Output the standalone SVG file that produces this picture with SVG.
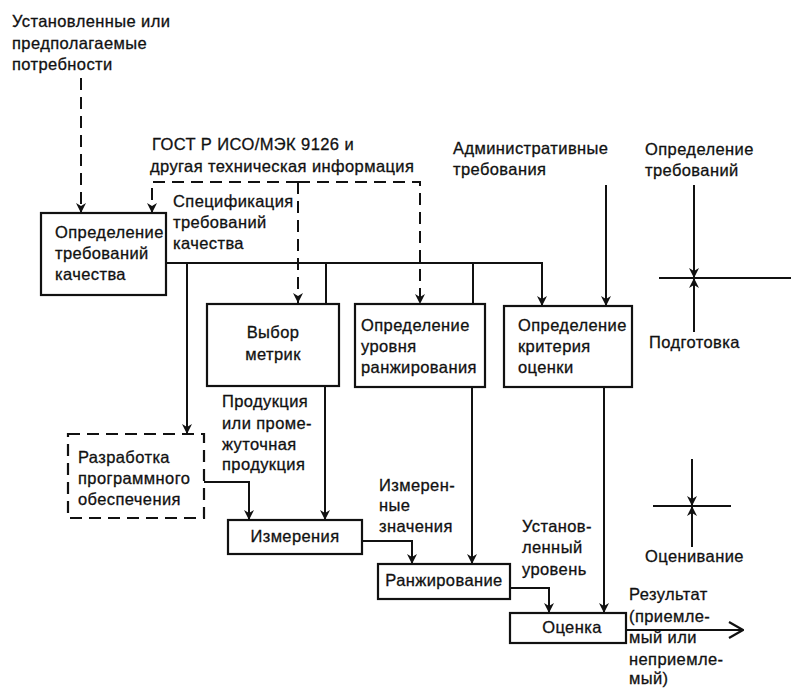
<svg xmlns="http://www.w3.org/2000/svg" width="791" height="688" viewBox="0 0 791 688">
<defs>
<style>
text{font-family:"Liberation Sans",Arial,sans-serif;font-size:16.5px;letter-spacing:0.4px;fill:#111;stroke:#111;stroke-width:0.3}
.box{fill:none;stroke:#111;stroke-width:2.2}
.dbox{fill:none;stroke:#111;stroke-width:2.2;stroke-dasharray:12 7}
.ln{fill:none;stroke:#111;stroke-width:2}
.dl{fill:none;stroke:#111;stroke-width:2;stroke-dasharray:12 7}
.c{text-anchor:middle}
</style>
<marker id="a" markerUnits="userSpaceOnUse" viewBox="0 0 10 12" refX="10" refY="6" markerWidth="10" markerHeight="12" orient="auto">
<path d="M0,1 L10,6 L0,11 L3,6 z" fill="#111" stroke="none"/>
</marker>
<marker id="o" markerUnits="userSpaceOnUse" viewBox="0 0 16 18" refX="15" refY="9" markerWidth="16" markerHeight="18" orient="auto">
<path d="M1,1 L15,9 L1,17" fill="none" stroke="#111" stroke-width="2.2" stroke-dasharray="none"/>
</marker>
</defs>
<rect width="791" height="688" fill="#fff"/>

<g id="connectors">
<path class="dl" d="M81,78 V213" marker-end="url(#a)"/>
<path class="dl" d="M298,182 H152 V213" marker-end="url(#a)"/>
<path class="dl" d="M298,182 V303" marker-end="url(#a)"/>
<path class="dl" d="M298,182 H420 V304" marker-end="url(#a)"/>
<path class="ln" d="M166,263 H542 V306" marker-end="url(#a)"/>
<path class="ln" d="M187,263 V434" marker-end="url(#a)"/>
<path class="ln" d="M326,263 V304"/>
<path class="ln" d="M473,263 V304"/>
<path class="ln" d="M606,185 V306" marker-end="url(#a)"/>
<path class="ln" d="M325,386 V520" marker-end="url(#a)"/>
<path class="ln" d="M204,482 H249 V520" marker-end="url(#a)"/>
<path class="ln" d="M362,541 H412 V564" marker-end="url(#a)"/>
<path class="ln" d="M472,387 V564" marker-end="url(#a)"/>
<path class="ln" d="M510,588 H549 V613" marker-end="url(#a)"/>
<path class="ln" d="M604,387 V613" marker-end="url(#a)"/>
<path class="ln" d="M626,630 H743" marker-end="url(#o)"/>
</g>

<g id="legend-prep">
<path class="ln" d="M694,185 V278" marker-end="url(#a)"/>
<path class="ln" d="M659,278 H791"/>
<path class="ln" d="M694,332 V278" marker-end="url(#a)"/>
<text x="645" y="155">Определение</text>
<text x="645" y="176">требований</text>
<text x="649" y="348">Подготовка</text>
</g>

<g id="legend-eval">
<path class="ln" d="M692,459 V506" marker-end="url(#a)"/>
<path class="ln" d="M653,506 H731"/>
<path class="ln" d="M692,547 V506" marker-end="url(#a)"/>
<text x="645" y="562">Оценивание</text>
</g>

<g id="needs">
<text x="12" y="27">Установленные или</text>
<text x="12" y="49">предполагаемые</text>
<text x="12" y="70">потребности</text>
</g>

<g id="gost">
<text x="152" y="150">ГОСТ Р ИСО/МЭК 9126 и</text>
<text x="150" y="172">другая техническая информация</text>
</g>

<g id="spec">
<text x="173" y="207">Спецификация</text>
<text x="173" y="228">требований</text>
<text x="173" y="249">качества</text>
</g>

<g id="admin">
<text x="453" y="154">Административные</text>
<text x="453" y="175">требования</text>
</g>

<g id="n-req">
<rect class="box" x="41" y="213" width="125" height="82"/>
<text x="55" y="238">Определение</text>
<text x="55" y="259">требований</text>
<text x="55" y="280">качества</text>
</g>

<g id="n-metrics">
<rect class="box" x="207" y="304" width="132" height="82"/>
<text class="c" x="273" y="338">Выбор</text>
<text class="c" x="273" y="360">метрик</text>
</g>

<g id="n-level">
<rect class="box" x="355" y="304" width="130" height="83"/>
<text x="361" y="331">Определение</text>
<text x="361" y="352">уровня</text>
<text x="361" y="373">ранжирования</text>
</g>

<g id="n-criteria">
<rect class="box" x="504" y="306" width="128" height="81"/>
<text x="518" y="331">Определение</text>
<text x="518" y="352">критерия</text>
<text x="518" y="373">оценки</text>
</g>

<g id="product">
<text x="222" y="407">Продукция</text>
<text x="222" y="429">или проме-</text>
<text x="222" y="450">жуточная</text>
<text x="222" y="470">продукция</text>
</g>

<g id="n-dev">
<rect class="dbox" x="68" y="434" width="136" height="84"/>
<text x="78" y="463">Разработка</text>
<text x="78" y="484">программного</text>
<text x="78" y="505">обеспечения</text>
</g>

<g id="n-measure">
<rect class="box" x="228" y="520" width="134" height="34"/>
<text class="c" x="295" y="542">Измерения</text>
</g>

<g id="measured">
<text x="379" y="491">Измерен-</text>
<text x="379" y="511">ные</text>
<text x="379" y="532">значения</text>
</g>

<g id="n-rank">
<rect class="box" x="378" y="564" width="132" height="35"/>
<text class="c" x="444" y="586">Ранжирование</text>
</g>

<g id="setlevel">
<text x="522" y="532">Установ-</text>
<text x="522" y="553">ленный</text>
<text x="522" y="575">уровень</text>
</g>

<g id="n-eval">
<rect class="box" x="510" y="613" width="116" height="30"/>
<text class="c" x="572" y="633">Оценка</text>
</g>

<g id="result">
<text x="629" y="600">Результат</text>
<text x="629" y="622">(приемле-</text>
<text x="629" y="643">мый или</text>
<text x="629" y="665">неприемле-</text>
<text x="629" y="684">мый)</text>
</g>
</svg>
